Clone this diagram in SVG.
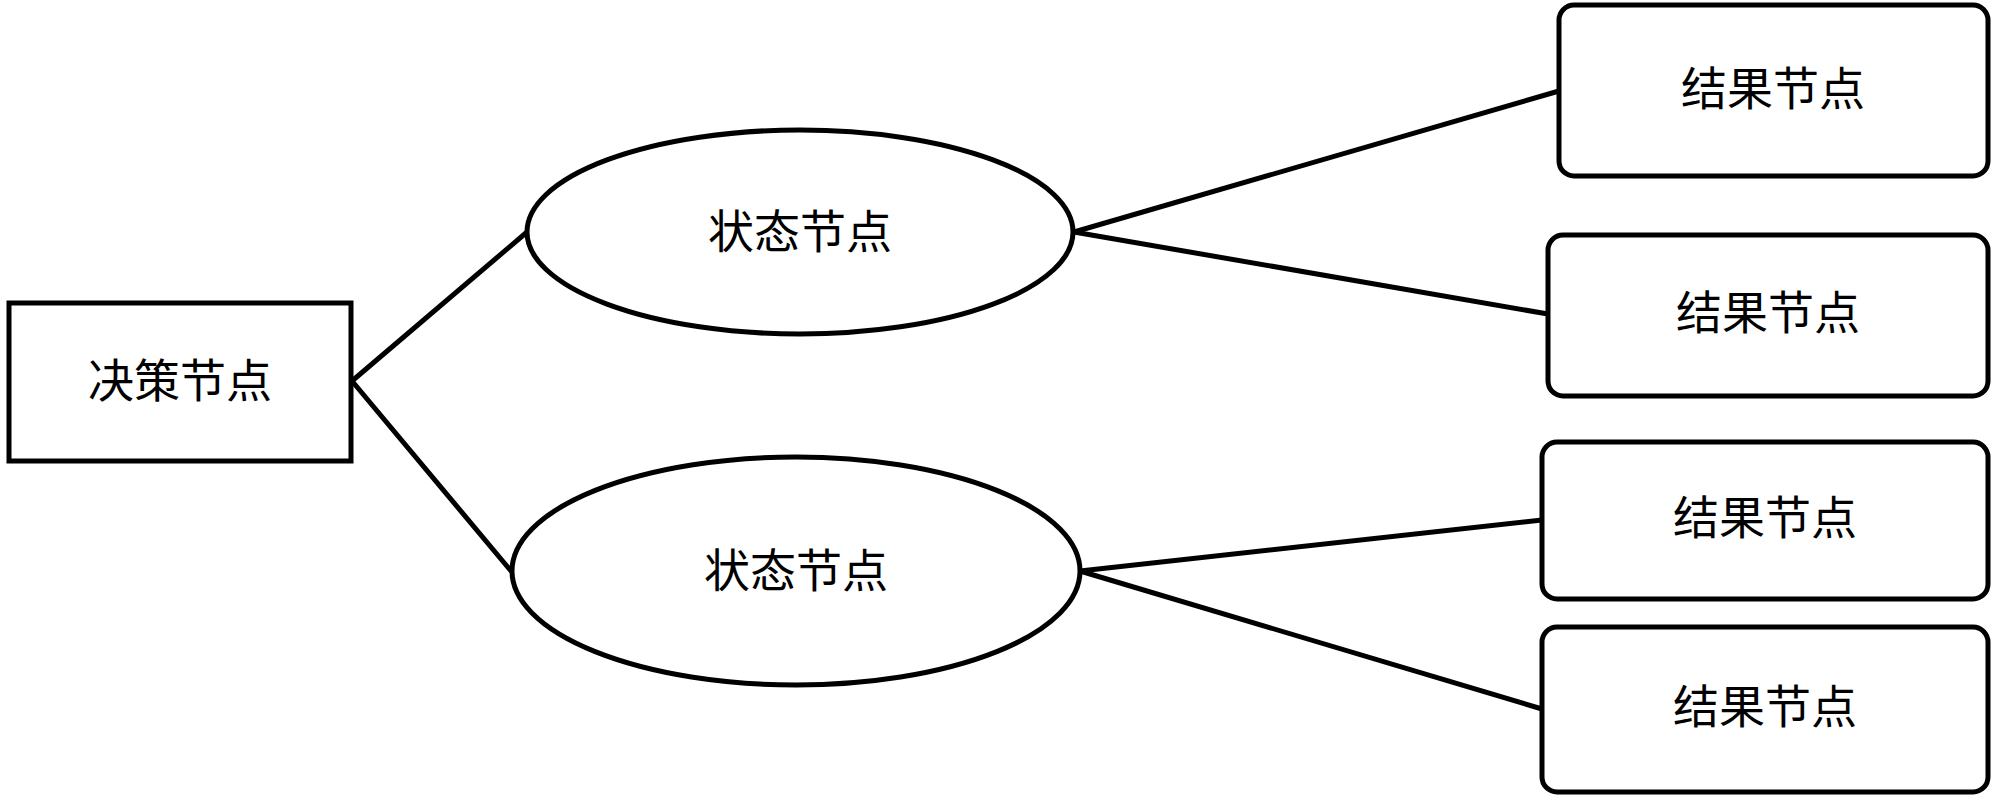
<svg xmlns="http://www.w3.org/2000/svg" width="2000" height="805" viewBox="0 0 2000 805">
<style>
.s{fill:#fff;stroke:#000;stroke-width:5}
.c{stroke:#000;stroke-width:5;fill:none;stroke-linecap:round}
.t{font-family:"Liberation Serif","Noto Sans CJK SC",serif;font-size:46px;text-anchor:middle;dominant-baseline:central;fill:#000}
</style>
<rect width="2000" height="805" fill="#fff"/>
<g id="connectors">
<line class="c" x1="352" y1="381" x2="527" y2="232"/>
<line class="c" x1="352" y1="381" x2="511" y2="571"/>
<line class="c" x1="1074" y1="232" x2="1559" y2="91"/>
<line class="c" x1="1074" y1="232" x2="1548" y2="314"/>
<line class="c" x1="1080" y1="571" x2="1542" y2="520"/>
<line class="c" x1="1080" y1="571" x2="1542" y2="709"/>
</g>
<g id="decision">
<rect class="s" x="9" y="303" width="342" height="158"/>
<text class="t" x="180" y="381">决策节点</text>
</g>
<g id="state1">
<ellipse class="s" cx="800" cy="232" rx="273" ry="102"/>
<text class="t" x="800" y="232">状态节点</text>
</g>
<g id="state2">
<ellipse class="s" cx="796" cy="571" rx="284" ry="114"/>
<text class="t" x="796" y="571">状态节点</text>
</g>
<g id="result1">
<rect class="s" x="1559" y="5" width="429" height="171" rx="15"/>
<text class="t" x="1773" y="89">结果节点</text>
</g>
<g id="result2">
<rect class="s" x="1548" y="235" width="440" height="161" rx="15"/>
<text class="t" x="1768" y="313">结果节点</text>
</g>
<g id="result3">
<rect class="s" x="1542" y="442" width="446" height="157" rx="15"/>
<text class="t" x="1765" y="518">结果节点</text>
</g>
<g id="result4">
<rect class="s" x="1542" y="627" width="446" height="165" rx="15"/>
<text class="t" x="1765" y="707">结果节点</text>
</g>
</svg>
